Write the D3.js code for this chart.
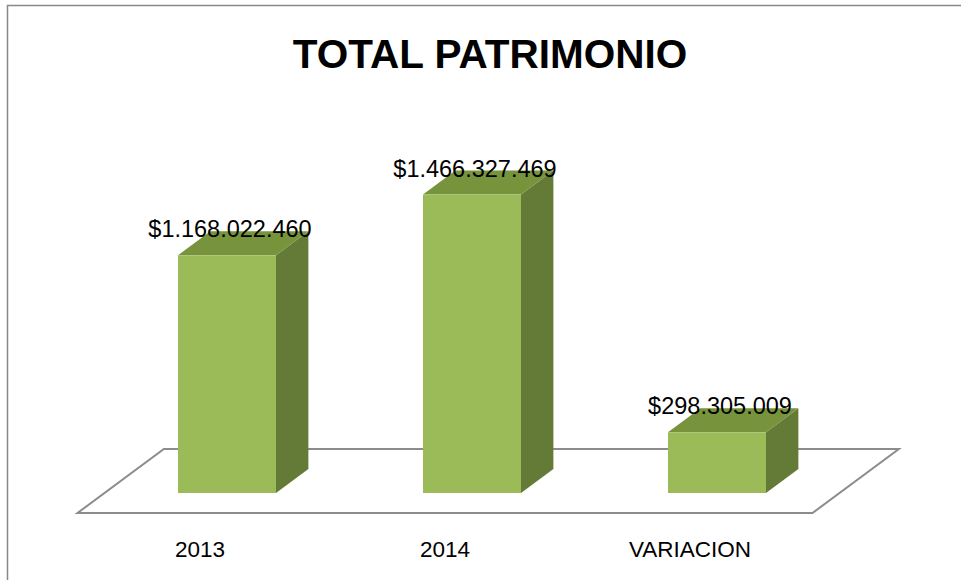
<!DOCTYPE html>
<html>
<head>
<meta charset="utf-8">
<script src="https://cdn.jsdelivr.net/npm/d3@7"></script>
<style>
  body { margin: 0; background: #fff; }
  svg text { font-family: "Liberation Sans", Arial, sans-serif; fill: #000; }
</style>
</head>
<body>
<div id="chart"></div>
<script>
// total patrimonio, 3d column look
const categories = ["2013", "2014", "VARIACION"];
const values = [1168022460, 1466327469, 298305009];
const valueLabels = ["$1.168.022.460", "$1.466.327.469", "$298.305.009"];
const chartTitle = "TOTAL PATRIMONIO";

const width = 961, height = 580;
const base = 493;          // y of the bars' front bottom edge
const slope = 85 / 63;     // x shift per px of depth
const barDepth = 24;       // px of depth (vertical) for each bar
const floorFront = 20, floorBack = 44;

const svg = d3.select('#chart').append('svg')
	.attr('width', width)
	.attr('height', height);

// outer frame (runs off the picture right and bottom)
svg.append('rect')
	.attr('x', 7.5).attr('y', 5.5)
	.attr('width', 1000).attr('height', 1000)
	.attr('fill', 'none')
	.attr('stroke', '#888')
	.attr('stroke-width', 1.5);

svg.append('text')
	.attr('x', 490).attr('y', 68)
	.attr('text-anchor', 'middle')
	.style('font-size', '40.5px')
	.style('font-weight', 'bold')
	.text(chartTitle);

const x = d3.scaleBand()
	.domain(categories)
	.range([104.5, 839.5])
	.paddingInner(0.6)
	.paddingOuter(0.3);

const y = d3.scaleLinear()
	.domain([0, 2e9])
	.range([base, 86]);

// floor
const r = x.range();
const floorPts = [
	[r[0] - floorFront * slope, base + floorFront],
	[r[1] - floorFront * slope, base + floorFront],
	[r[1] + floorBack * slope, base - floorBack],
	[r[0] + floorBack * slope, base - floorBack]
];
svg.append('polygon')
	.attr('points', floorPts.map(p => p.join(',')).join(' '))
	.attr('fill', '#fff')
	.attr('stroke', '#8c8c8c')
	.attr('stroke-width', 2);

const dx = barDepth * slope, dy = barDepth;
const bars = svg.selectAll('g.bar')
	.data(categories.map((c, i) => ({cat: c, v: values[i], label: valueLabels[i]})))
	.join('g')
	.attr('class', 'bar');

bars.append('polygon') // side
	.attr('points', d => {
		const x1 = x(d.cat) + x.bandwidth(), yt = y(d.v);
		return [[x1, yt], [x1 + dx, yt - dy], [x1 + dx, base - dy], [x1, base]].map(p => p.join(',')).join(' ');
	})
	.attr('fill', '#647b37');

bars.append('polygon') // top
	.attr('points', d => {
		const x0 = x(d.cat), x1 = x0 + x.bandwidth(), yt = y(d.v);
		return [[x0, yt], [x0 + dx, yt - dy], [x1 + dx, yt - dy], [x1, yt]].map(p => p.join(',')).join(' ');
	})
	.attr('fill', '#77933c');

bars.append('rect') // front
	.attr('x', d => x(d.cat))
	.attr('y', d => y(d.v))
	.attr('width', x.bandwidth())
	.attr('height', d => base - y(d.v))
	.attr('fill', '#9bbb59');

bars.append('text')
	.attr('x', d => x(d.cat) + x.bandwidth() / 2 + 3)
	.attr('y', d => y(d.v) - 18)
	.attr('text-anchor', 'middle')
	.style('font-size', '23.5px')
	.text(d => d.label);

// category labels sit on the floor's front edge
svg.selectAll('text.cat')
	.data(categories)
	.join('text')
	.attr('class', 'cat')
	.attr('x', d => x(d) + x.bandwidth() / 2 - floorFront * slope)
	.attr('y', 557)
	.attr('text-anchor', 'middle')
	.style('font-size', '22.5px')
	.text(d => d);
</script>
</body>
</html>
